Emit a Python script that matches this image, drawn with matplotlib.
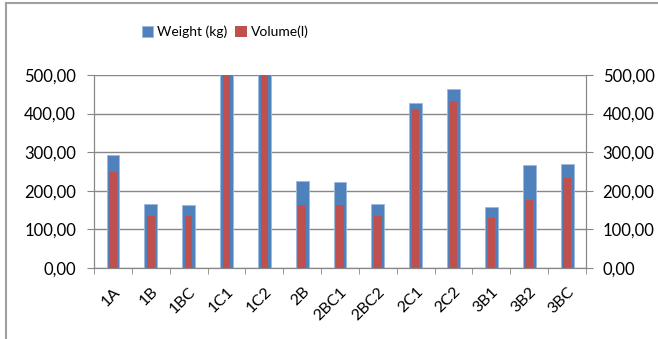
import numpy as np
import matplotlib.pyplot as plt
from matplotlib.ticker import FuncFormatter, MultipleLocator

plt.rcParams['font.family'] = ['Lato', 'DejaVu Sans']

categories = ["1A", "1B", "1BC", "1C1", "1C2", "2B", "2BC1", "2BC2",
              "2C1", "2C2", "3B1", "3B2", "3BC"]
weight_kg = [294, 167, 164, 540, 530, 226, 222, 167, 428, 464, 158, 266, 269]
volume_l = [249, 136, 136, 520, 515, 164, 164, 136, 413, 432, 129, 176, 234]

blue = "#4F81BD"
red = "#C0504D"
grid_col = "#878787"

fig = plt.figure(figsize=(6.58, 3.39), dpi=100)
ax = fig.add_axes([0.1429, 0.2094, 0.7477, 0.5694])
ax2 = ax.twinx()

x = np.arange(len(categories))
ax.bar(x, weight_kg, width=0.34, color=blue, edgecolor="#9DB9DC",
       linewidth=0.6, label="Weight (kg)", zorder=3)
ax2.bar(x, volume_l, width=0.2, color=red, label="Volume(l)", zorder=3)

fmt = FuncFormatter(lambda v, p: f"{v:.2f}".replace(".", ","))
for a in (ax, ax2):
    a.set_ylim(0, 500)
    a.set_xlim(-0.5, len(categories) - 0.5)
    a.yaxis.set_major_locator(MultipleLocator(100))
    a.yaxis.set_major_formatter(fmt)
    a.tick_params(axis="y", length=5, color=grid_col, labelsize=12)
    for s in a.spines.values():
        s.set_color(grid_col)
    a.spines["top"].set_visible(False)
ax.tick_params(axis="y", pad=8)
ax2.tick_params(axis="y", pad=7)

ax.yaxis.grid(True, color=grid_col, linewidth=1.0, zorder=0)
ax.set_axisbelow(True)

ax.set_xticks(x)
ax.set_xticklabels(categories, rotation=45, ha="right",
                   rotation_mode="anchor", fontsize=11.5)
ax.tick_params(axis="x", length=0, pad=12)
ax.set_xticks(np.arange(-0.5, len(categories)), minor=True)
ax.tick_params(axis="x", which="minor", length=4, color=grid_col)

h1, l1 = ax.get_legend_handles_labels()
h2, l2 = ax2.get_legend_handles_labels()
fig.legend(h1 + h2, l1 + l2, loc="center", bbox_to_anchor=(0.342, 0.905),
           ncol=2, frameon=False, fontsize=10, handlelength=0.8,
           handleheight=0.8, handletextpad=0.3, columnspacing=0.6)

# outer chart border (cropped)
fig.add_artist(plt.Line2D([0.009, 0.009], [0, 0.991], color="#A0A0A0",
                          linewidth=1.5, transform=fig.transFigure))
fig.add_artist(plt.Line2D([0.009, 1.0], [0.991, 0.991], color="#A0A0A0",
                          linewidth=1.5, transform=fig.transFigure))

fig.savefig("out.png", dpi=100)
